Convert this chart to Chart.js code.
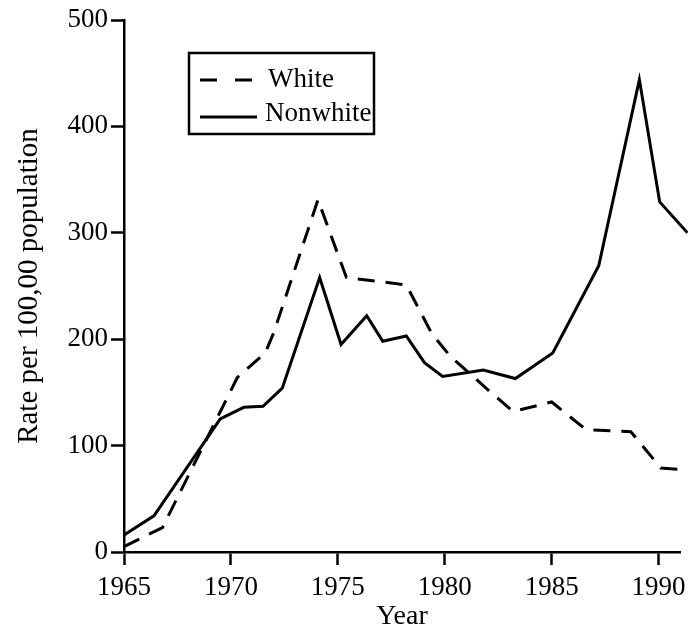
<!DOCTYPE html>
<html>
<head>
<meta charset="utf-8">
<script src="https://cdn.jsdelivr.net/npm/chart.js@4/dist/chart.umd.min.js"></script>
<style>
  html, body { margin: 0; padding: 0; background: #fff; }
  canvas { display: block; }
</style>
</head>
<body>
<canvas id="c" width="688" height="629"></canvas>
<script>
// Data
const whiteYears    = [1965, 1966.8, 1970.3, 1971.6, 1972.0, 1974.07, 1975.4, 1978.2, 1979.4, 1980.3, 1981.1, 1982.1, 1983.2, 1985.0, 1986.6, 1988.7, 1990.1, 1991.35];
const whiteRates    = [5, 23, 164, 187, 206, 331, 258, 251, 205, 183, 169, 151, 132, 141, 115, 113, 79, 77];
const nonwhiteYears = [1965, 1966.4, 1969.5, 1970.6, 1971.5, 1972.4, 1974.15, 1975.15, 1976.35, 1977.1, 1978.2, 1979.05, 1979.9, 1981.8, 1983.3, 1985.05, 1987.2, 1989.1, 1990.05, 1991.35];
const nonwhiteRates = [16, 34, 125, 136, 137, 154, 258, 195, 222, 198, 203, 178, 165, 171, 163, 187, 269, 444, 329, 300];
const seriesLabels  = ['White', 'Nonwhite'];
const xTitle = 'Year';
const yTitle = 'Rate per 100,00 population';

const FONT = "'Liberation Serif', 'Times New Roman', serif";

function toPoints(xs, ys) { return xs.map((x, i) => ({ x: x, y: ys[i] })); }

const boxedLegend = {
  id: 'boxedLegend',
  afterDraw(chart) {
    const { ctx, chartArea } = chart;
    const x0 = chartArea.left + 65, y0 = chartArea.top + 33;
    const w = 185, h = 81;
    ctx.save();
    ctx.strokeStyle = '#000';
    ctx.lineWidth = 2.5;
    ctx.strokeRect(x0, y0, w, h);
    ctx.font = "27px " + FONT;
    ctx.fillStyle = '#000';
    ctx.textBaseline = 'middle';
    chart.data.datasets.forEach((ds, i) => {
      const cy = y0 + 27 + i * 34;
      ctx.beginPath();
      ctx.setLineDash(ds.borderDash ? [17, 18] : []);
      ctx.lineWidth = 3;
      ctx.moveTo(x0 + 11, cy + (i ? 3 : 0));
      ctx.lineTo(x0 + (i ? 68 : 63), cy + (i ? 3 : 0));
      ctx.stroke();
      ctx.setLineDash([]);
      ctx.textAlign = 'left';
      ctx.fillText(ds.label, x0 + (i ? 76 : 79), cy);
    });
    ctx.restore();
  }
};

new Chart(document.getElementById('c'), {
  type: 'line',
  data: {
    datasets: [
      { label: seriesLabels[0], data: toPoints(whiteYears, whiteRates), borderColor: '#000', borderWidth: 3, borderDash: [17, 11], pointRadius: 0, tension: 0, clip: false, fill: false },
      { label: seriesLabels[1], data: toPoints(nonwhiteYears, nonwhiteRates), borderColor: '#000', borderWidth: 3, pointRadius: 0, tension: 0, clip: false, fill: false }
    ]
  },
  options: {
    responsive: false,
    animation: false,
    devicePixelRatio: 1,
    layout: { padding: { top: 20, right: 8, left: 0, bottom: 0 } },
    plugins: { legend: { display: false }, tooltip: { enabled: false } },
    scales: {
      x: {
        type: 'linear',
        min: 1965, max: 1991,
        afterFit(s) { s.height = 77; s.paddingLeft = 0; s.paddingRight = 0; },
        border: { display: true, color: '#000', width: 2.5 },
        grid: { drawOnChartArea: false, drawTicks: true, tickLength: 13, tickWidth: 2.5, tickColor: '#000' },
        ticks: { stepSize: 5, includeBounds: false, maxRotation: 0, autoSkip: false, color: '#000', padding: 7, font: { family: FONT, size: 27 }, callback: v => String(v) },
        title: { display: true, text: xTitle, color: '#000', font: { family: FONT, size: 28 }, padding: { top: 0, bottom: -4 } }
      },
      y: {
        min: 0, max: 500,
        afterFit(s) { s.width = 124; },
        border: { display: true, color: '#000', width: 2.5 },
        grid: { drawOnChartArea: false, drawTicks: true, tickLength: 13, tickWidth: 2.5, tickColor: '#000' },
        ticks: { stepSize: 100, color: '#000', padding: 3, font: { family: FONT, size: 27 }, callback: v => String(v) },
        title: { display: true, text: yTitle, color: '#000', font: { family: FONT, size: 29 }, padding: { top: 12, bottom: 0 } }
      }
    }
  },
  plugins: [boxedLegend]
});
</script>
</body>
</html>
